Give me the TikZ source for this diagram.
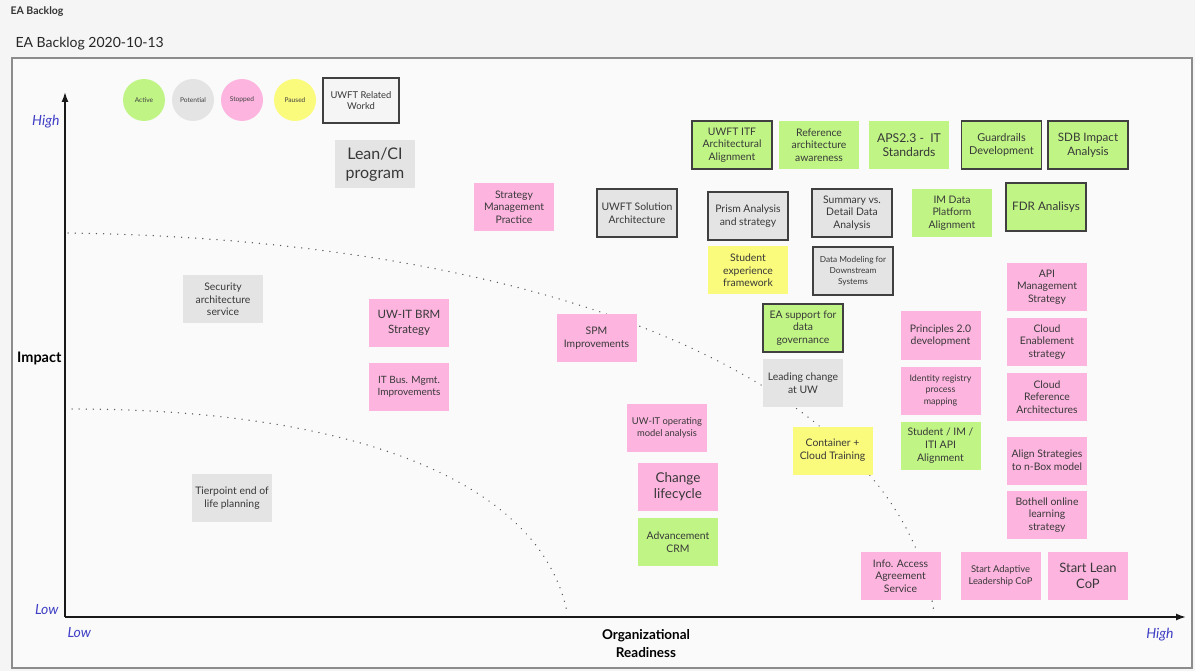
\documentclass[tikz,border=0pt]{standalone}
\usepackage{fontspec}
\setmainfont{Lato}
\usetikzlibrary{arrows.meta}
\definecolor{active}{HTML}{C0F585}
\definecolor{potential}{HTML}{E4E4E4}
\definecolor{stopped}{HTML}{FDB5DF}
\definecolor{paused}{HTML}{FAFA7C}
\definecolor{axisblue}{HTML}{3F3FC6}
\begin{document}
\begin{tikzpicture}[x=1pt,y=-1pt,
    note/.style={minimum width=80pt, minimum height=48pt, inner sep=0pt, align=center,
        text=black!78, font=\fontsize{10.4}{12.7}\selectfont},
    uwft/.style={draw=black!75, line width=1.1pt},
    legend/.style={circle, minimum size=42pt, inner sep=0pt, text=black!75,
        font=\fontsize{6.6}{8}\selectfont},
    curve/.style={line width=1.4pt, black!65, dash pattern=on 0.1pt off 7pt, line cap=round},
    lvl/.style={text=axisblue, font=\fontsize{14}{16}\selectfont\itshape}]
\useasboundingbox (0,0) rectangle (1195,671);
\fill[black!4] (0,0) rectangle (1195,671);
\draw[black!45, line width=1.5pt, fill=black!2] (12,58) rectangle (1192,668);

\node[anchor=west, font=\fontsize{10.5}{12}\selectfont\bfseries, text=black!80] (hdr) at (7,12) {EA Backlog};
\node[anchor=west, font=\fontsize{14}{16}\selectfont, text=black!85] (title) at (12,44) {EA Backlog 2020-10-13};

\draw[curve] (68,233) .. controls (550,240) and (900,380) .. (934,612);
\draw[curve] (72,409) .. controls (350,409) and (540,480) .. (567,612);

\coordinate (o) at (65,617);
\coordinate (ytop) at (65,92);
\coordinate (xend) at (1186,617);
\draw[line width=1.6pt, black!90, -{Latex[length=10pt,width=7pt]}] (o) -- (ytop);
\draw[line width=1.6pt, black!90, -{Latex[length=10pt,width=7pt]}] (o) -- (xend);

\node[lvl, anchor=east] (yhigh) at (63,122) {High};
\node[lvl, anchor=east] (ylow) at (62,610) {Low};
\node[lvl, anchor=west] (xlow) at (64,633) {Low};
\node[lvl] (xhigh) at (1160,635) {High};
\node[anchor=east, font=\fontsize{14.5}{16}\selectfont\bfseries] (impact) at (65,358) {Impact};
\node[align=center, font=\fontsize{13.5}{18}\selectfont\bfseries] (orgr) at (646,644) {Organizational\\Readiness};

\node[legend, fill=active] (lact) at (144,100) {Active};
\node[legend, fill=potential] (lpot) at (193,100) {Potential};
\node[legend, fill=stopped] (lstop) at (242,100) {Stopped};
\node[legend, fill=paused] (lpau) at (295,100) {Paused};
\node[note, uwft, fill=black!4, minimum width=76pt, minimum height=45pt,
    font=\fontsize{9.4}{11.7}\selectfont] (lwork) at (361,100.5) {UWFT Related\\Workd};

\node[note, fill=potential, font=\fontsize{16}{18.5}\selectfont] (lean) at (375,164.5) {Lean/CI\\program};
\node[note, fill=stopped] (smp) at (514,207) {Strategy\\Management\\Practice};
\node[note, uwft, fill=potential] (usa) at (637,213) {UWFT Solution\\Architecture};
\node[note, uwft, fill=active] (itf) at (732,145) {UWFT ITF\\Architectural\\Alignment};
\node[note, fill=active] (ref) at (819,145) {Reference\\architecture\\awareness};
\node[note, fill=active, font=\fontsize{12.2}{14}\selectfont] (aps) at (909,145) {APS2.3 -~ IT\\Standards};
\node[note, uwft, fill=active, font=\fontsize{10.9}{13.5}\selectfont] (guard) at (1001.5,145) {Guardrails\\Development};
\node[note, uwft, fill=active, font=\fontsize{11.6}{14}\selectfont] (sdb) at (1088,145) {SDB Impact\\Analysis};
\node[note, uwft, fill=potential] (prism) at (748,216) {Prism Analysis\\and strategy};
\node[note, fill=paused] (sexp) at (748,270.5) {Student\\experience\\framework};
\node[note, uwft, fill=potential] (sumd) at (852,213) {Summary vs.\\Detail Data\\Analysis};
\node[note, uwft, fill=potential, font=\fontsize{8.3}{10.8}\selectfont] (dmod) at (853,271) {Data Modeling for\\Downstream\\Systems};
\node[note, fill=active] (imdp) at (952,213) {IM Data\\Platform\\Alignment};
\node[note, uwft, fill=active, font=\fontsize{11.7}{14}\selectfont] (fdr) at (1046,207) {FDR Analisys};

\node[note, fill=stopped] (api) at (1047,287) {API\\Management\\Strategy};
\node[note, fill=stopped] (cen) at (1047,342) {Cloud\\Enablement\\strategy};
\node[note, fill=stopped] (cra) at (1047,397) {Cloud\\Reference\\Architectures};
\node[note, fill=stopped] (nbox) at (1047,460.5) {Align Strategies\\to n-Box model};
\node[note, fill=stopped] (both) at (1047,515) {Bothell online\\learning\\strategy};
\node[note, fill=stopped] (prin) at (940.5,335.5) {Principles 2.0\\development};
\node[note, fill=stopped, font=\fontsize{8.9}{11.8}\selectfont] (idr) at (940.5,390.5) {Identity registry\\process\\mapping};
\node[note, fill=active] (sapi) at (940.5,445.5) {Student / IM /\\ITI API\\Alignment};

\node[note, fill=potential] (sec) at (223,299.5) {Security\\architecture\\service};
\node[note, fill=stopped, font=\fontsize{11.5}{15.5}\selectfont] (brm) at (409,323) {UW-IT BRM\\Strategy};
\node[note, fill=stopped, font=\fontsize{10}{12.3}\selectfont] (itbm) at (409,387) {IT Bus. Mgmt.\\Improvements};
\node[note, fill=potential] (tier) at (232,498) {Tierpoint end of\\life planning};
\node[note, fill=stopped] (spm) at (596.5,338) {SPM\\Improvements};
\node[note, uwft, fill=active] (eads) at (803,328) {EA support for\\data\\governance};
\node[note, fill=potential] (lcuw) at (803,383) {Leading change\\at UW};
\node[note, fill=stopped, font=\fontsize{9.4}{12.3}\selectfont] (uwop) at (667,428) {UW-IT operating\\model analysis};
\node[note, fill=paused] (ccl) at (832.5,450.5) {Container +\\Cloud Training};
\node[note, fill=stopped, font=\fontsize{13.5}{16}\selectfont] (chg) at (678,487) {Change\\lifecycle};
\node[note, fill=active] (crm) at (678,542) {Advancement\\CRM};
\node[note, fill=stopped] (iaa) at (900.5,576) {Info. Access\\Agreement\\Service};
\node[note, fill=stopped, font=\fontsize{9.4}{12}\selectfont] (sal) at (1000.5,576) {Start Adaptive\\Leadership CoP};
\node[note, fill=stopped, font=\fontsize{13}{16}\selectfont] (slc) at (1088,576) {Start Lean\\CoP};
\end{tikzpicture}
\end{document}
